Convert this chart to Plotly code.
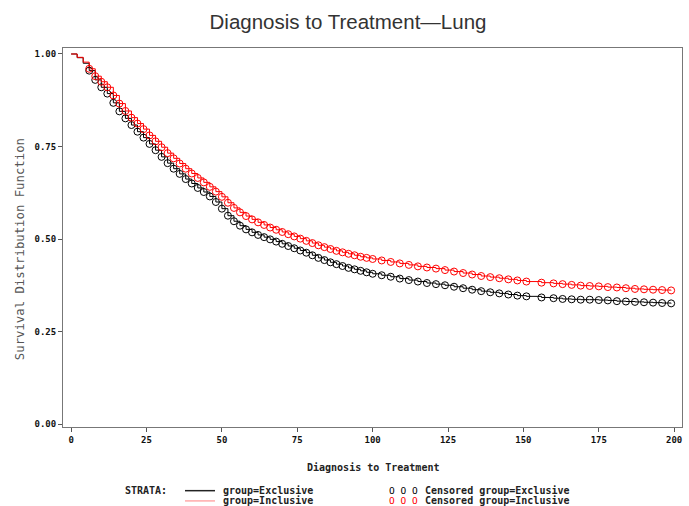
import plotly.graph_objects as go

# Kaplan-Meier estimates (time, survival)
excl_time = [0, 2, 4, 6, 8, 10, 12, 14, 16, 18, 20, 22, 24, 26, 28, 30, 32, 34, 36, 38,
             40, 42, 44, 46, 48, 50, 52, 54, 56, 58, 60, 62, 64, 66, 68, 70, 72, 74, 76, 78,
             80, 82, 84, 86, 88, 90, 92, 94, 96, 98, 100, 103, 106, 109, 112, 115, 118, 121,
             124, 127, 130, 133, 136, 139, 142, 145, 148, 151, 156, 160, 163, 166, 169, 172,
             175, 178, 181, 184, 187, 190, 193, 196, 199]
excl_surv = [1.000, 0.990, 0.975, 0.955, 0.930, 0.910, 0.893, 0.868, 0.845, 0.826, 0.808,
             0.790, 0.774, 0.757, 0.740, 0.722, 0.705, 0.690, 0.676, 0.662, 0.650, 0.638,
             0.627, 0.615, 0.600, 0.582, 0.563, 0.548, 0.536, 0.526, 0.518, 0.511, 0.505,
             0.499, 0.493, 0.487, 0.481, 0.475, 0.469, 0.463, 0.456, 0.449, 0.443, 0.437,
             0.432, 0.427, 0.422, 0.418, 0.414, 0.410, 0.406, 0.402, 0.398, 0.393, 0.389,
             0.385, 0.381, 0.378, 0.375, 0.371, 0.367, 0.363, 0.359, 0.356, 0.353, 0.350,
             0.347, 0.345, 0.342, 0.340, 0.338, 0.337, 0.336, 0.336, 0.335, 0.334, 0.332,
             0.331, 0.330, 0.329, 0.328, 0.327, 0.326]

incl_time = list(excl_time)
incl_surv = [1.000, 0.991, 0.978, 0.960, 0.940, 0.925, 0.910, 0.888, 0.866, 0.846, 0.828,
             0.812, 0.797, 0.780, 0.764, 0.748, 0.732, 0.718, 0.704, 0.690, 0.677, 0.665,
             0.653, 0.641, 0.628, 0.614, 0.598, 0.584, 0.572, 0.562, 0.553, 0.545, 0.538,
             0.531, 0.525, 0.519, 0.513, 0.507, 0.501, 0.495, 0.489, 0.483, 0.478, 0.473,
             0.468, 0.464, 0.460, 0.456, 0.452, 0.449, 0.446, 0.442, 0.438, 0.434, 0.430,
             0.426, 0.423, 0.420, 0.416, 0.412, 0.408, 0.404, 0.400, 0.397, 0.394, 0.391,
             0.388, 0.385, 0.382, 0.380, 0.378, 0.376, 0.374, 0.373, 0.372, 0.370, 0.369,
             0.367, 0.365, 0.364, 0.363, 0.362, 0.361]

x_ticks = [0, 25, 50, 75, 100, 125, 150, 175, 200]
y_ticks = [0.00, 0.25, 0.50, 0.75, 1.00]
y_tick_labels = ["0.00", "0.25", "0.50", "0.75", "1.00"]

fig = go.Figure()

series = [("Exclusive", excl_time, excl_surv, "black"),
          ("Inclusive", incl_time, incl_surv, "#ff0000")]
for name, t, s, col in series:
    fig.add_trace(go.Scatter(x=t, y=s, mode="lines", line=dict(color=col, width=1, shape="hv"),
                             name="group=" + name, showlegend=False, hoverinfo="skip"))
for name, t, s, col in series:
    ct = [v for v in t if v >= 6]
    cs = [s[i] for i, v in enumerate(t) if v >= 6]
    fig.add_trace(go.Scatter(x=ct, y=cs, mode="markers",
                             marker=dict(symbol="circle-open", size=7, color=col, line=dict(width=1, color=col)),
                             name="Censored group=" + name, showlegend=False))

mono = "DejaVu Sans Mono"
fig.update_layout(
    width=689, height=506,
    margin=dict(l=63, r=7, t=48, b=79),
    paper_bgcolor="white", plot_bgcolor="white",
    title=dict(text="Diagnosis to Treatment\u2014Lung", x=348 / 689, xref="container", xanchor="center",
               y=1 - 22 / 506, yref="container", yanchor="middle",
               font=dict(family="Liberation Sans", size=20.5, color="#333")),
    xaxis=dict(range=[-2.7, 202.6], tickvals=x_ticks, ticks="outside", ticklen=4, tickcolor="#555",
               showgrid=False, zeroline=False, showline=True, linecolor="#777", linewidth=1, mirror=True,
               tickfont=dict(family=mono, size=9, color="#111", weight="bold")),
    yaxis=dict(range=[-0.0081, 1.0162], tickvals=y_ticks, ticktext=y_tick_labels, ticks="outside",
               ticklen=4, tickcolor="#555",
               showgrid=False, zeroline=False, showline=True, linecolor="#777", linewidth=1, mirror=True,
               tickfont=dict(family=mono, size=9, color="#111", weight="bold")),
)

ann = []
ann.append(dict(text="Survival Distribution Function", xref="paper", yref="paper", x=-0.069, y=0.47,
                xanchor="center", yanchor="middle", textangle=-90, showarrow=False,
                font=dict(family=mono, size=12.3, color="#555")))
ann.append(dict(text="Diagnosis to Treatment", xref="paper", yref="paper", x=0.5, y=-0.108,
                xanchor="center", yanchor="middle", showarrow=False,
                font=dict(family=mono, size=10, color="#222", weight="bold")))
ann.append(dict(text="STRATA:", xref="paper", yref="paper", x=(123 - 63) / 619, y=-0.168,
                xanchor="left", yanchor="middle", showarrow=False,
                font=dict(family=mono, size=10, color="#222", weight="bold")))
rows = [(-0.168, "black", "#222", "Exclusive"), (-0.195, "#ff0000", "#ffaaaa", "Inclusive")]
shapes = []
for yy, col, lcol, nm in rows:
    shapes.append(dict(type="line", xref="paper", yref="paper", x0=(185 - 63) / 619, x1=(215 - 63) / 619,
                       y0=yy, y1=yy, line=dict(color=lcol, width=1.5)))
    ann.append(dict(text="group=" + nm, xref="paper", yref="paper", x=(221 - 63) / 619, y=yy,
                    xanchor="left", yanchor="middle", showarrow=False,
                    font=dict(family=mono, size=10, color="#222", weight="bold")))
    ann.append(dict(text="O O O", xref="paper", yref="paper", x=(387 - 63) / 619, y=yy,
                    xanchor="left", yanchor="middle", showarrow=False,
                    font=dict(family=mono, size=9.5, color=col)))
    ann.append(dict(text="Censored group=" + nm, xref="paper", yref="paper", x=(423 - 63) / 619, y=yy,
                    xanchor="left", yanchor="middle", showarrow=False,
                    font=dict(family=mono, size=10, color="#222", weight="bold")))
fig.update_layout(annotations=ann, shapes=shapes)

fig.write_html("out.html", config={"displayModeBar": False},
               post_script="document.body.style.margin='0';")
